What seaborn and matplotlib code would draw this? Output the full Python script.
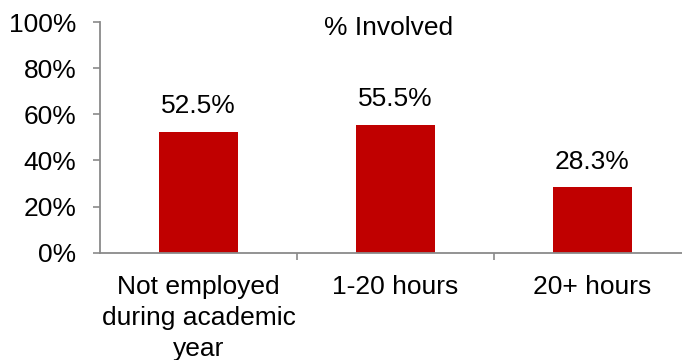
import matplotlib
matplotlib.use("Agg")
import matplotlib.pyplot as plt
import matplotlib.transforms as mtransforms
import seaborn as sns
import pandas as pd

categories = ["Not employed\nduring academic\nyear", "1-20 hours", "20+ hours"]
involved = [52.5, 55.5, 28.3]
yticks = [0, 20, 40, 60, 80, 100]
ytick_labels = ["0%", "20%", "40%", "60%", "80%", "100%"]
title = "% Involved"

sns.set_style("white")
plt.rcParams["font.family"] = ["Liberation Sans", "DejaVu Sans"]
plt.rcParams["text.color"] = "black"
plt.rcParams["xtick.labelcolor"] = "black"
plt.rcParams["ytick.labelcolor"] = "black"

df = pd.DataFrame({"category": categories, "value": involved})

fig = plt.figure(figsize=(6.82, 3.6), dpi=100)
# axes run slightly past the right edge of the canvas
ax = fig.add_axes([100 / 682, 107.3 / 360, 591 / 682, 230.7 / 360])

sns.barplot(data=df, x="category", y="value", color="#C00000", width=0.4,
            saturation=1, edgecolor="none", ax=ax)

ax.set_xlim(-0.5, 2.5)
ax.set_ylim(0, 100)
ax.set_xlabel("")
ax.set_ylabel("")

gray = "#8a8a8a"
for side in ["top", "right"]:
    ax.spines[side].set_visible(False)
for side in ["left", "bottom"]:
    ax.spines[side].set_color(gray)
    ax.spines[side].set_linewidth(1.3)

ax.set_yticks(yticks)
ax.set_yticklabels(ytick_labels, fontsize=19)
ax.tick_params(axis="y", which="major", direction="out", length=5,
               width=1.2, color=gray, pad=12, left=True, labelcolor="black")

# category labels under bar centers, tick marks on category boundaries
ax.set_xticks(range(len(categories)))
ax.set_xticklabels(categories, fontsize=19, linespacing=1.38)
ax.tick_params(axis="x", which="major", length=0, pad=16, labelcolor="black")
ax.set_xticks([0.5, 1.5, 2.5], minor=True)
ax.tick_params(axis="x", which="minor", direction="out", length=5,
               width=1.2, color=gray, bottom=True)

for i, v in enumerate(involved):
    ax.annotate(f"{v:.1f}%", xy=(i, v), xytext=(0, 18.5),
                textcoords="offset points", ha="center", va="center",
                fontsize=19, color="black")

trans = mtransforms.blended_transform_factory(ax.transAxes, ax.transData)
ax.text((389 - 100) / 591, 97.4, title, transform=trans,
        fontsize=19, ha="center", va="center", color="black")

fig.savefig("out.png", dpi=100)
